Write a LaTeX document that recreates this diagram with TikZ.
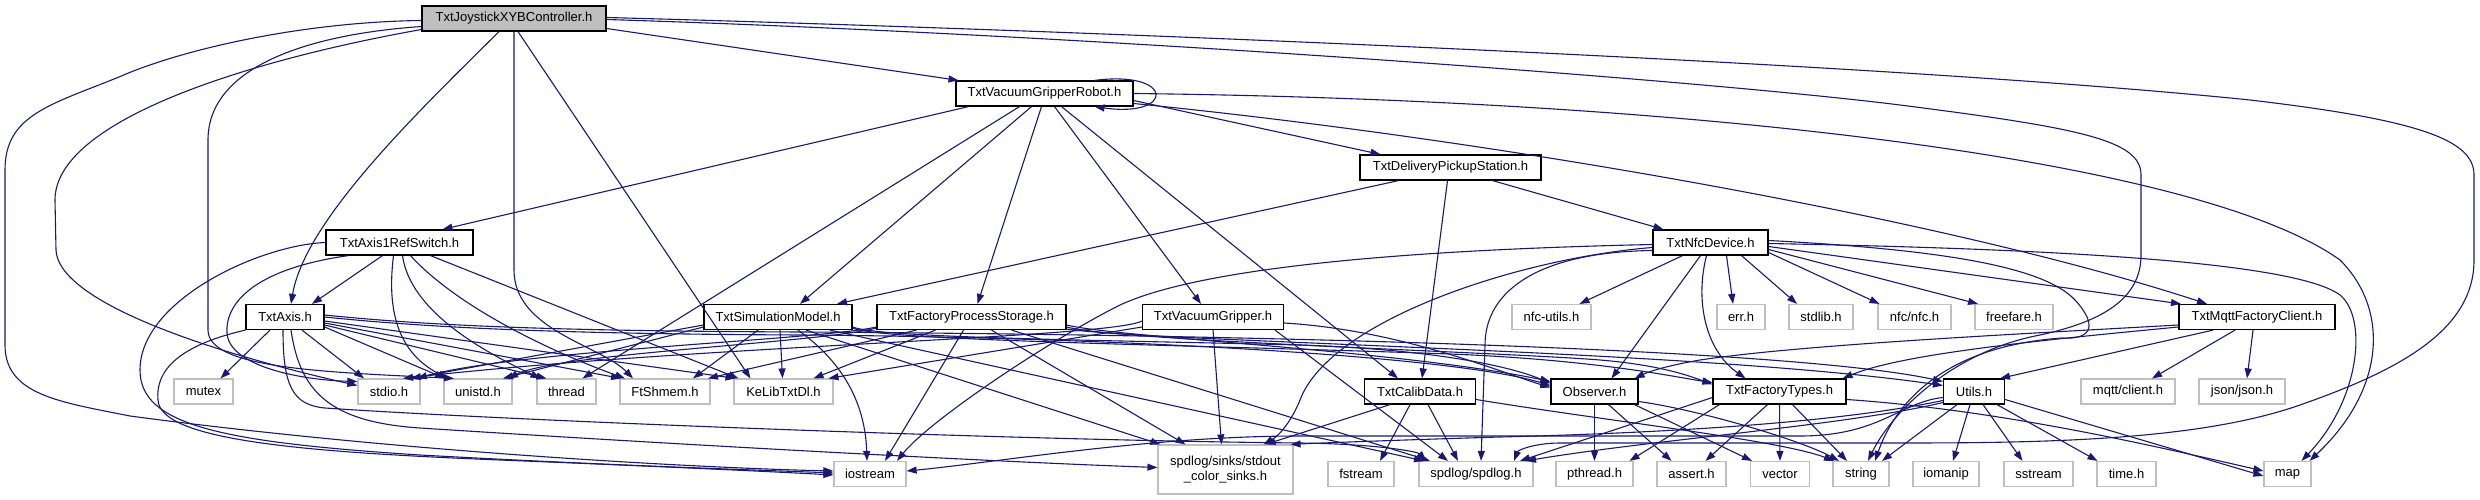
\documentclass[tikz,border=0pt]{standalone}
\usepackage{fontspec}
\setmainfont{Liberation Sans}
\usetikzlibrary{arrows.meta}
\definecolor{edgeblue}{HTML}{191970}
\definecolor{boxgray}{HTML}{BFBFBF}
\tikzset{
  filebox/.style={draw=black, fill=white, line width=1.2pt, minimum height=25pt, inner sep=2pt, font=\fontsize{13}{15}\selectfont},
  sysbox/.style={filebox, draw=boxgray},
  mainbox/.style={filebox, fill=boxgray},
  dep/.style={draw=edgeblue, line width=1.1pt, -{Triangle[length=10pt,width=7pt]}}
}
\begin{document}
\begin{tikzpicture}[x=1pt,y=-1pt]
\useasboundingbox (0,0) rectangle (2480,500);

% Dateien
\node [mainbox, minimum width=184pt] (joystick) at (514,18.5) {TxtJoystickXYBController.h};
\node [filebox, minimum width=177pt] (robot) at (1044.5,93.5) {TxtVacuumGripperRobot.h};
\node [filebox, minimum width=181pt] (delivery) at (1450.5,167.5) {TxtDeliveryPickupStation.h};
\node [filebox, minimum width=147pt] (refswitch) at (399.5,242.5) {TxtAxis1RefSwitch.h};
\node [filebox, minimum width=115pt] (nfcdev) at (1710.5,242.5) {TxtNfcDevice.h};

\node [filebox, minimum width=78pt] (axis) at (285,317) {TxtAxis.h};
\node [filebox, minimum width=148pt] (simmodel) at (778,317) {TxtSimulationModel.h};
\node [filebox, minimum width=189pt] (storage) at (971.5,317) {TxtFactoryProcessStorage.h};
\node [filebox, minimum width=141pt] (gripper) at (1213,317) {TxtVacuumGripper.h};
\node [sysbox, minimum width=79pt] (nfcutils) at (1551.5,317) {nfc-utils.h};
\node [sysbox, minimum width=48pt] (errh) at (1741,317) {err.h};
\node [sysbox, minimum width=64pt] (stdlib) at (1821,317) {stdlib.h};
\node [sysbox, minimum width=73pt] (nfcnfc) at (1914.5,317) {nfc/nfc.h};
\node [sysbox, minimum width=78pt] (freefare) at (2014,317) {freefare.h};
\node [filebox, minimum width=156pt] (mqtt) at (2257,317) {TxtMqttFactoryClient.h};

\node [sysbox, minimum width=59pt] (mutex) at (203.5,391.5) {mutex};
\node [sysbox, minimum width=62pt] (stdio) at (389,391.5) {stdio.h};
\node [sysbox, minimum width=68pt] (unistd) at (478,391.5) {unistd.h};
\node [sysbox, minimum width=59pt] (thread) at (566.5,391.5) {thread};
\node [sysbox, minimum width=90pt] (shmem) at (665,391.5) {FtShmem.h};
\node [sysbox, minimum width=99pt] (kelib) at (783.5,391.5) {KeLibTxtDl.h};
\node [filebox, minimum width=111pt] (calib) at (1420,391.5) {TxtCalibData.h};
\node [filebox, minimum width=87pt] (observer) at (1594.5,391.5) {Observer.h};
\node [filebox, minimum width=133pt] (ftypes) at (1779.5,391.5) {TxtFactoryTypes.h};
\node [filebox, minimum width=61pt] (utils) at (1974,391.5) {Utils.h};
\node [sysbox, minimum width=94pt] (mqttclient) at (2128,391.5) {mqtt/client.h};
\node [sysbox, minimum width=86pt] (json) at (2242,391.5) {json/json.h};

\node [sysbox, minimum width=72pt] (iostream) at (870,474) {iostream};
\node [sysbox, minimum width=135pt, minimum height=49pt, align=center] (sinks) at (1225.5,469.5) {spdlog/sinks/stdout\\\_color\_sinks.h};
\node [sysbox, minimum width=66pt] (fstream) at (1361,474) {fstream};
\node [sysbox, minimum width=114pt] (spdlog) at (1476,474) {spdlog/spdlog.h};
\node [sysbox, minimum width=77pt] (pthread) at (1594.5,474) {pthread.h};
\node [sysbox, minimum width=69pt] (assert) at (1691.5,474) {assert.h};
\node [sysbox, minimum width=59pt] (vector) at (1780,474) {vector};
\node [sysbox, minimum width=56pt] (string) at (1861,474) {string};
\node [sysbox, minimum width=66pt] (iomanip) at (1946,474) {iomanip};
\node [sysbox, minimum width=69pt] (sstream) at (2038.5,474) {sstream};
\node [sysbox, minimum width=59pt] (timeh) at (2126.5,474) {time.h};
\node [sysbox, minimum width=47pt] (map) at (2287.5,474) {map};

% TxtJoystickXYBController.h
\draw [dep] ([yshift=-2pt]joystick.west) .. controls (300,22) and (180,50) .. (119,77) .. controls (50,105) and (5,115) .. (5,170) -- (5,345) .. controls (5,395) and (60,402) .. (130,416) .. controls (400,452) and (700,468) .. ([yshift=3pt]iostream.west);
\draw [dep] ([yshift=-8pt]joystick.west) .. controls (300,35) and (208,70) .. (208,140) -- (208,330) .. controls (208,368) and (320,372) .. ([xshift=-24pt]unistd.north);
\draw [dep] ([yshift=-11pt]joystick.west) .. controls (250,60) and (55,120) .. (55,200) -- (56,250) .. controls (58,300) and (200,350) .. ([yshift=6pt]stdio.west);
\draw [dep] ([xshift=-15pt]joystick.south) .. controls (420,110) and (305,220) .. ([xshift=6pt]axis.north);
\draw [dep] (joystick.south) -- (514,270) .. controls (514,330) and (600,345) .. ([xshift=-32pt]shmem.north);
\draw [dep] ([xshift=4pt]joystick.south) -- ([xshift=-33pt]kelib.north);
\draw [dep] ([yshift=-10pt]joystick.east) -- ([xshift=-86pt]robot.north);
\draw [dep] ([yshift=1pt]joystick.east) .. controls (1000,28) and (1860,60) .. (2250,100) .. controls (2420,120) and (2474,140) .. (2474,175) -- (2474,260) .. controls (2474,330) and (2400,370) .. (2300,405) .. controls (2200,440) and (2050,443) .. (1900,443) -- (1560,443) .. controls (1535,443) and (1518,450) .. ([xshift=38pt]spdlog.north);
\draw [dep] ([yshift=-1pt]joystick.east) .. controls (1100,35) and (1700,80) .. (1900,105) .. controls (2080,128) and (2141,140) .. (2141,175) -- (2141,255) .. controls (2141,300) and (2100,322) .. (2040,335) .. controls (1950,352) and (1890,415) .. ([xshift=7pt]string.north);

% TxtAxis1RefSwitch.h
\draw [dep] ([xshift=-17pt]refswitch.south) -- ([xshift=27pt]axis.north);
\draw [dep] ([xshift=-51pt]refswitch.south) .. controls (260,268) and (225,300) .. (227,333) .. controls (229,366) and (300,380) .. ([yshift=10pt]stdio.west);
\draw [dep] (refswitch.west) .. controls (260,245) and (140,300) .. (140,370) .. controls (140,425) and (220,442) .. (420,455) .. controls (620,466) and (760,470) .. ([yshift=1pt]iostream.west);
\draw [dep] ([xshift=-6pt]refswitch.south) .. controls (388,300) and (392,350) .. ([xshift=-30pt]unistd.north);
\draw [dep] ([xshift=3pt]refswitch.south) .. controls (410,310) and (480,350) .. ([xshift=-26pt]thread.north);
\draw [dep] ([xshift=11pt]refswitch.south) .. controls (460,310) and (560,355) .. ([xshift=-40pt]shmem.north);
\draw [dep] ([xshift=31pt]refswitch.south) -- ([xshift=-45pt]kelib.north);

% TxtAxis.h
\draw [dep] ([xshift=-15pt]axis.south) -- ([xshift=17pt]mutex.north);
\draw [dep] ([xshift=17pt]axis.south) -- ([xshift=-25pt]stdio.north);
\draw [dep] ([yshift=-10pt]axis.east) -- ([xshift=-33pt]unistd.north);
\draw [dep] ([yshift=-8pt]axis.east) -- ([xshift=-20pt]thread.north);
\draw [dep] ([yshift=-6pt]axis.east) -- ([xshift=-44pt]shmem.north);
\draw [dep] ([yshift=-4pt]axis.east) -- ([xshift=-48pt]kelib.north);
\draw [dep] (axis.south west) .. controls (180,345) and (155,370) .. (158,400) .. controls (160,440) and (300,452) .. (500,460) .. controls (650,466) and (780,472) .. ([yshift=-1pt]iostream.west);
\draw [dep] ([xshift=-2pt]axis.south) .. controls (283,385) and (292,405) .. (325,408) .. controls (500,420) and (1000,440) .. (1300,443) .. controls (1380,444) and (1418,452) .. ([xshift=-50pt]spdlog.north);
\draw [dep] ([xshift=6pt]axis.south) .. controls (300,392) and (330,422) .. (420,428) .. controls (700,446) and (1000,462) .. ([yshift=2pt]sinks.west);
\draw [dep] (axis.east) .. controls (450,330) and (600,334) .. (800,335) .. controls (1100,337) and (1450,355) .. ([yshift=6pt]observer.west);
\draw [dep] ([yshift=2pt]axis.east) .. controls (450,328) and (600,331) .. (800,332) .. controls (1300,335) and (1800,350) .. ([yshift=10pt]utils.west);

% TxtVacuumGripperRobot.h
\draw [dep] ([xshift=50pt]robot.north) .. controls (1175,70) and (1175,118) .. ([xshift=50pt]robot.south);
\draw [dep] ([xshift=-76pt]robot.south) -- ([xshift=43pt]refswitch.north);
\draw [dep] ([xshift=-25pt]robot.south) -- ([xshift=16pt]thread.north);
\draw [dep] ([xshift=-13pt]robot.south) -- ([xshift=22pt]simmodel.north);
\draw [dep] ([xshift=-3pt]robot.south) -- ([xshift=6pt]storage.north);
\draw [dep] ([xshift=10pt]robot.south) -- ([xshift=-12pt]gripper.north);
\draw [dep] ([xshift=17pt]robot.south) -- ([xshift=-22pt]calib.north);
\draw [dep] ([yshift=-7pt]robot.east) -- ([xshift=-70pt]delivery.north);
\draw [dep] ([yshift=-10pt]robot.east) .. controls (1500,140) and (1950,220) .. ([xshift=-50pt]mqtt.north);
\draw [dep] (robot.east) .. controls (1700,100) and (2200,160) .. (2340,260) .. controls (2390,310) and (2385,390) .. ([xshift=22pt]map.north);

% TxtDeliveryPickupStation.h
\draw [dep] ([xshift=-52pt]delivery.south) -- ([xshift=59pt]simmodel.north);
\draw [dep] ([xshift=-3pt]delivery.south) -- ([xshift=2pt]calib.north);
\draw [dep] ([xshift=42pt]delivery.south) -- ([xshift=-47pt]nfcdev.north);

% TxtNfcDevice.h
\draw [dep] ([xshift=-28pt]nfcdev.south) -- ([xshift=28pt]nfcutils.north);
\draw [dep] ([xshift=16pt]nfcdev.south) -- ([xshift=-8pt]errh.north);
\draw [dep] ([xshift=31pt]nfcdev.south) -- ([xshift=-24pt]stdlib.north);
\draw [dep] ([yshift=-10pt]nfcdev.east) -- ([xshift=-35pt]nfcnfc.north);
\draw [dep] ([yshift=-7pt]nfcdev.east) -- ([xshift=-36pt]freefare.north);
\draw [dep] ([yshift=-4pt]nfcdev.east) -- ([xshift=-76pt]mqtt.north);
\draw [dep] ([yshift=-1pt]nfcdev.east) .. controls (2000,248) and (2290,258) .. (2340,295) .. controls (2368,318) and (2360,400) .. ([xshift=14pt]map.north);
\draw [dep] ([yshift=2pt]nfcdev.east) .. controls (1950,250) and (2045,268) .. (2075,300) .. controls (2098,325) and (2092,340) .. (2062,338) .. controls (1960,345) and (1900,390) .. ([xshift=14pt]string.north);
\draw [dep] ([xshift=-10pt]nfcdev.south) -- ([xshift=17pt]observer.north);
\draw [dep] ([xshift=-4pt]nfcdev.south) .. controls (1695,300) and (1705,350) .. ([xshift=-34pt]ftypes.north);
\draw [dep] ([yshift=-8pt]nfcdev.west) .. controls (1540,252) and (1485,290) .. (1485,345) -- ([xshift=5pt]spdlog.north);
\draw [dep] ([yshift=-5pt]nfcdev.west) .. controls (1520,258) and (1330,320) .. (1300,400) .. controls (1292,420) and (1280,435) .. ([xshift=38pt]sinks.north);
\draw [dep] ([yshift=-2pt]nfcdev.west) .. controls (1400,250) and (1200,268) .. (1120,305) .. controls (1050,340) and (930,420) .. ([xshift=27pt]iostream.north);

% TxtSimulationModel.h
\draw [dep] ([yshift=-8pt]simmodel.west) -- ([xshift=22pt]stdio.north);
\draw [dep] ([yshift=-10pt]simmodel.west) -- ([xshift=25pt]unistd.north);
\draw [dep] ([xshift=-20pt]simmodel.south) -- ([xshift=28pt]shmem.north);
\draw [dep] ([xshift=2pt]simmodel.south) -- ([xshift=-1pt]kelib.north);
\draw [dep] ([xshift=20pt]simmodel.south) .. controls (840,360) and (865,400) .. ([xshift=-3pt]iostream.north);
\draw [dep] ([xshift=28pt]simmodel.south) -- ([xshift=-65pt]sinks.north);
\draw [dep] ([xshift=52pt]simmodel.south) -- ([xshift=-52pt]spdlog.north);
\draw [dep] ([yshift=-10pt]simmodel.east) .. controls (880,338) and (1100,340) .. (1300,345) .. controls (1450,350) and (1520,370) .. ([yshift=8pt]observer.west);
\draw [dep] ([yshift=-11pt]simmodel.east) .. controls (880,341) and (1200,345) .. (1450,354) .. controls (1600,360) and (1680,378) .. ([yshift=9pt]ftypes.west);

% TxtFactoryProcessStorage.h
\draw [dep] ([yshift=-10pt]storage.west) .. controls (820,340) and (520,350) .. ([xshift=28pt]stdio.north);
\draw [dep] ([yshift=-11pt]storage.west) .. controls (820,343) and (560,353) .. ([xshift=30pt]unistd.north);
\draw [dep] ([xshift=-55pt]storage.south) -- ([xshift=43pt]shmem.north);
\draw [dep] ([xshift=-36pt]storage.south) -- ([xshift=30pt]kelib.north);
\draw [dep] ([xshift=-8pt]storage.south) -- ([xshift=15pt]iostream.north);
\draw [dep] ([xshift=20pt]storage.south) -- ([xshift=-40pt]sinks.north);
\draw [dep] ([xshift=40pt]storage.south) -- ([xshift=-46pt]spdlog.north);
\draw [dep] ([yshift=-8pt]storage.east) .. controls (1120,338) and (1400,350) .. ([yshift=10pt]observer.west);
\draw [dep] ([yshift=-10pt]storage.east) .. controls (1120,341) and (1500,352) .. (1600,360) .. controls (1660,365) and (1690,376) .. ([yshift=7pt]ftypes.west);
\draw [dep] ([yshift=-12pt]storage.east) .. controls (1150,342) and (1700,350) .. ([yshift=6pt]utils.west);

% TxtVacuumGripper.h
\draw [dep] ([yshift=-4pt]gripper.west) .. controls (1110,338) and (700,345) .. ([xshift=14pt]stdio.north);
\draw [dep] ([yshift=-10pt]gripper.west) -- ([xshift=45pt]kelib.north);
\draw [dep] (gripper.south) -- ([xshift=-4pt]sinks.north);
\draw [dep] ([xshift=62pt]gripper.south) -- ([xshift=-28pt]spdlog.north);
\draw [dep] ([yshift=-6pt]gripper.east) .. controls (1400,330) and (1500,372) .. ([yshift=4pt]observer.west);

% TxtCalibData.h
\draw [dep] ([xshift=-10pt]calib.south) -- ([xshift=19pt]fstream.north);
\draw [dep] ([xshift=-30pt]calib.south) -- ([xshift=40pt]sinks.north);
\draw [dep] ([xshift=8pt]calib.south) -- ([xshift=-18pt]spdlog.north);
\draw [dep] ([yshift=-8pt]calib.east) .. controls (1600,420) and (1780,440) .. ([xshift=-27pt]string.north);

% Observer.h
\draw [dep] (observer.south) -- (pthread.north);
\draw [dep] ([xshift=14pt]observer.south) -- ([xshift=-20pt]assert.north);
\draw [dep] ([xshift=40pt]observer.south) -- ([xshift=-28pt]vector.north);
\draw [dep] ([yshift=-10pt]observer.east) .. controls (1700,410) and (1800,440) .. ([xshift=-22pt]string.north);

% TxtFactoryTypes.h
\draw [dep] ([xshift=-60pt]ftypes.south) -- ([xshift=35pt]pthread.north);
\draw [dep] ([xshift=-12pt]ftypes.south) -- ([xshift=14pt]assert.north);
\draw [dep] (ftypes.south) -- (vector.north);
\draw [dep] ([xshift=13pt]ftypes.south) -- ([xshift=-14pt]string.north);
\draw [dep] ([yshift=-6pt]ftypes.west) -- ([xshift=44pt]spdlog.north);
\draw [dep] ([yshift=-8pt]ftypes.east) .. controls (2000,410) and (2150,445) .. ([yshift=3pt]map.west);

% Utils.h
\draw [dep] ([xshift=-17pt]utils.south) -- ([xshift=21pt]string.north);
\draw [dep] ([xshift=-4pt]utils.south) -- ([xshift=7pt]iomanip.north);
\draw [dep] ([xshift=9pt]utils.south) -- ([xshift=-16pt]sstream.north);
\draw [dep] ([xshift=23pt]utils.south) -- ([xshift=-29pt]timeh.north);
\draw [dep] ([yshift=-8pt]utils.east) -- ([yshift=-2pt]map.west);
\draw [dep] ([yshift=-6pt]utils.west) .. controls (1900,402) and (1880,436) .. (1800,436) -- (1300,436) .. controls (1150,436) and (1000,462) .. ([yshift=3pt]iostream.east);
\draw [dep] ([yshift=-9pt]utils.west) .. controls (1850,420) and (1700,432) .. (1500,437) .. controls (1400,440) and (1320,443) .. ([xshift=-3pt]sinks.north east);
\draw [dep] ([yshift=-11pt]utils.west) .. controls (1850,425) and (1650,440) .. ([xshift=50pt]spdlog.north);

% TxtMqttFactoryClient.h
\draw [dep] ([xshift=-22pt]mqtt.south) -- ([xshift=24pt]mqttclient.north);
\draw [dep] ([xshift=-4pt]mqtt.south) -- ([xshift=5pt]json.north);
\draw [dep] ([xshift=-44pt]mqtt.south) -- ([xshift=26pt]utils.north);
\draw [dep] ([yshift=-8pt]mqtt.west) .. controls (2000,335) and (1800,345) .. (1700,360) .. controls (1665,366) and (1648,372) .. ([xshift=-4pt]observer.north east);
\draw [dep] ([yshift=-10pt]mqtt.west) .. controls (2020,342) and (1900,355) .. ([xshift=-4pt]ftypes.north east);
\end{tikzpicture}
\end{document}
